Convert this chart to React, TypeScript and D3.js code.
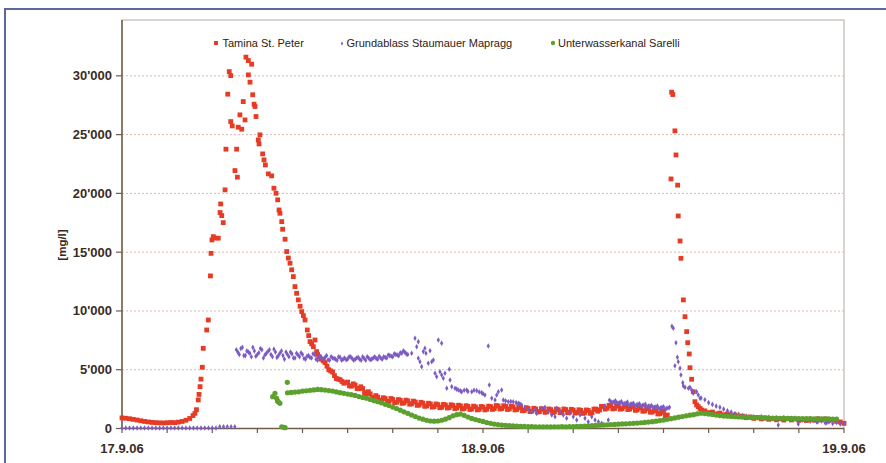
import { useEffect, useRef } from "react";
import * as d3 from "d3";

type Pt = [number, number]; // [hours since 17.9.06 00:00, mg/l]

const STEP = 0.25; // hours between readings in the regular stretches

// Tamina St. Peter
const taminaEarly = [
  900, 870, 830, 780, 720, 660, 600, 560, 520, 500, 480, 470, 490, 510, 500, 540, 600, 700, 850,
]; // from 0h
const taminaPeak1: Pt[] = [
  [4.72, 1100], [4.85, 1290], [4.95, 1600], [5.07, 2430], [5.12, 2900], [5.19, 3560], [5.25, 4200],
  [5.34, 5210], [5.4, 6820], [5.63, 8380], [5.74, 9230], [5.88, 12980], [5.92, 14900], [5.98, 16040],
  [6.07, 16320], [6.12, 16200], [6.4, 16190], [6.52, 18370], [6.56, 19100], [6.63, 18110], [6.73, 17510],
  [6.85, 20300], [6.91, 23760], [7.03, 28440], [7.13, 30360], [7.23, 30020], [7.23, 26110], [7.33, 25740],
  [7.51, 21940], [7.62, 23760], [7.67, 21380], [7.73, 25630], [7.84, 26680], [7.96, 25460], [8.06, 27810],
  [8.18, 26250], [8.24, 31590], [8.4, 31300], [8.4, 30080], [8.51, 29460], [8.62, 30990], [8.69, 28390],
  [8.78, 27590], [8.84, 27390], [8.91, 26540], [9.06, 24550], [9.11, 24210], [9.17, 24980], [9.35, 23360],
  [9.44, 22850], [9.53, 22420], [9.73, 21660], [9.95, 21490], [10.1, 20440], [10.24, 20010], [10.35, 19450],
  [10.44, 18590], [10.5, 18310], [10.62, 17600], [10.68, 16950], [10.84, 16100], [10.95, 15050],
  [11.06, 14500], [11.17, 14060], [11.28, 13500], [11.39, 12920], [11.5, 12070], [11.61, 11500],
  [11.72, 10940], [11.84, 10400], [11.95, 9940], [12.06, 9600], [12.17, 9230], [12.32, 8380], [12.41, 7900],
  [12.5, 7390], [12.61, 7200], [12.72, 6960], [12.83, 7530], [12.94, 6540],
];
const taminaMid = [
  6300, 5900, 5600, 5000, 4800, 4250, 4150, 3850, 3950, 3600, 3700, 3380, 3400, 2950, 2950, 2600,
  2680, 2400, 2550, 2320, 2480, 2230, 2400, 2180, 2350, 2100, 2250, 2000, 2160, 1920, 2090, 1860,
  2030, 1810, 2000, 1780, 1960, 1740, 1920, 1700, 1880, 1660, 1840, 1630, 1820, 1640, 1860, 1690,
  1910, 1700, 1880, 1660, 1840, 1620, 1780, 1540, 1700, 1480, 1660, 1440, 1630, 1420, 1610, 1410,
  1600, 1410, 1610, 1390, 1570, 1350, 1540, 1330, 1530, 1340, 1650, 1580, 1880, 1720, 1920, 1710,
  1900, 1690, 1870, 1650, 1820, 1580, 1740, 1500, 1670, 1400, 1520, 1250, 1380, 1150,
]; // from 13h
const taminaMid2 = [
  6100, 5750, 5300, 4900, 4500, 4200, 4000, 3900, 3630, 3800, 3400, 3550, 3050, 3130, 2650, 2800,
  2390, 2620, 2280, 2550, 2200, 2460, 2140, 2410, 2070, 2330, 1970, 2230, 1890, 2150, 1820, 2090,
  1770, 2050, 1740, 2020, 1700, 1980, 1660, 1940, 1620, 1900, 1585, 1875, 1580, 1900, 1625, 1950,
  1655, 1940, 1620, 1900, 1580, 1850, 1510, 1770, 1440, 1720, 1400, 1685, 1375, 1665, 1360, 1655,
  1355, 1660, 1350, 1630, 1310, 1595, 1285, 1580, 1285, 1650, 1470, 1880, 1650, 1970, 1665, 1955,
  1645, 1930, 1610, 1885, 1550, 1810, 1470, 1735, 1390, 1610, 1240, 1460, 1090,
]; // from 13.125h, in between the readings above
const taminaPeak2: Pt[] = [
  [36.5, 21230], [36.54, 28610], [36.62, 28410], [36.76, 25320], [36.83, 23270], [36.94, 20700],
  [36.98, 18080], [37.1, 15950], [37.16, 14480], [37.32, 10940], [37.43, 9510], [37.54, 8240],
  [37.61, 7300], [37.71, 6340], [37.76, 5170], [37.87, 4190], [37.98, 3130], [38.09, 2280],
  [38.2, 2000], [38.31, 1860], [38.43, 1700], [38.54, 1570],
];
const taminaLate = [
  1500, 1350, 1400, 1250, 1310, 1170, 1230, 1100, 1150, 1000, 1050, 920, 980, 860, 940, 820,
  900, 780, 850, 740, 830, 720, 830, 730, 810, 690, 780, 680, 790, 710, 830, 730, 820, 690,
  750, 620, 560, 440,
]; // from 38.75h

// Grundablass Staumauer Mapragg
const grundBase = [
  40, 40, 40, 40, 40, 40, 40, 40, 40, 40, 40, 40, 40, 40, 40, 40, 40, 40, 40, 40, 40, 40, 40, 40,
  40, 40, 150, 150, 150, 150, 150,
]; // from 0h
const grundBand = [
  6700, 6300, 6900, 6200, 6500, 6100, 6600, 6300, 6800, 6000, 6400, 6700, 6100, 6500, 6200, 6600,
  5900, 6300, 6500, 6000, 6400, 6100, 6300, 5900, 6200, 6000, 6300, 5800, 6100, 5900, 6200, 5800,
  6000, 5900, 6100, 5800, 6000, 5900, 6100, 5800, 6000, 5900, 6100, 5800, 6000, 5900, 6100, 5900,
  6000, 6100, 6000, 6200, 6100, 6300, 6200, 6400, 6500,
]; // from 7.6h, every 0.2h
const grundBand2 = [
  6500, 6800, 6200, 6600, 6400, 6900, 6150, 6450, 6700, 6250, 6550, 6300, 6750, 6050, 6400, 6200,
  6500, 6100, 6350, 6000, 6250, 6450, 5950, 6150, 6050, 6350, 5900, 6150, 5950, 6050, 5850, 6100,
  5950, 5800, 6050, 5900, 5850, 6100, 5950, 5900, 6050, 5800, 5950, 6100, 5850, 6000, 5950, 6150,
  5900, 6050, 6250, 6150, 6350, 6250, 6450, 6600, 6350,
]; // from 7.7h, every 0.2h
const grundScatter: Pt[] = [
  [19.0, 6300], [19.26, 6400], [19.48, 7680], [19.59, 6960], [19.7, 7390], [19.7, 5970], [19.81, 5680],
  [19.92, 5260], [20.03, 6540], [20.14, 6830], [20.21, 6400], [20.36, 5550], [20.48, 6620], [20.59, 5680],
  [20.7, 5830], [20.81, 4700], [20.92, 4410], [21.03, 7530], [21.14, 4830], [21.25, 7250], [21.25, 4550],
  [21.36, 4270], [21.47, 4700], [21.59, 3420], [21.76, 5040], [21.81, 4130], [21.92, 3560], [22.14, 3420],
  [22.25, 3350], [22.36, 3280], [22.5, 3200], [22.58, 3130], [22.75, 3250], [22.92, 3280], [23.0, 3150],
  [23.25, 3130], [23.4, 3250], [23.58, 3220], [23.75, 3100], [23.91, 3050], [24.0, 2950], [24.13, 2850],
  [24.35, 7020], [24.42, 3700], [24.58, 2570], [24.8, 2430], [24.91, 2850], [25.02, 3130], [25.24, 3280],
  [25.35, 2430], [25.5, 2350], [25.68, 2280], [25.85, 2300], [26.01, 2280], [26.2, 2200], [26.35, 2140],
  [26.45, 2100], [26.57, 2000], [26.79, 1800], [27.01, 1570], [27.24, 1430], [27.46, 1630], [27.57, 1290],
  [27.9, 1720], [28.12, 1800], [28.34, 1430], [28.57, 1150], [28.79, 1000], [28.9, 1720], [29.12, 1430],
  [29.34, 1150], [29.56, 870], [29.78, 1290], [30.0, 1000], [30.23, 720], [30.45, 1150], [30.78, 870],
  [31.0, 580], [31.23, 1000], [31.45, 720], [31.67, 580], [31.89, 440], [32.1, 1900], [32.33, 720],
];
const grundPlateau = [
  2400, 2200, 2350, 2150, 2300, 2100, 2250, 2050, 2150, 2000, 2100, 1950, 2050, 1900, 1950, 1800,
  1900, 1750, 1850, 1700, 1800,
]; // from 32.4h, every 0.2h
const grundPlateau2 = [
  2300, 2250, 2200, 2200, 2100, 2150, 2000, 2100, 1950, 2050, 1900, 2000, 1850, 1900, 1800, 1850,
  1700, 1800, 1650, 1750,
]; // from 32.5h, every 0.2h
const grundPeak: Pt[] = [
  [36.56, 8700], [36.65, 8530], [36.76, 5340], [36.83, 7300], [36.92, 6060], [36.98, 5680], [37.1, 5120],
  [37.16, 4550], [37.28, 3900], [37.32, 3620], [37.43, 3500], [37.65, 3420], [37.76, 3500], [37.87, 3280],
  [37.98, 3000], [38.2, 3130], [38.31, 2850], [38.43, 2570],
];
const grundTail = [
  2600, 2450, 2200, 2050, 1900, 1800, 1650, 1500, 1400, 1280, 1200, 1100, 1050, 980, 1000, 920,
  1010, 880, 950, 840, 900, 820, 940, 860, 780, 900, 830, 700, 760, 620, 700, 560, 650, 480,
  560, 420, 520, 380, 450,
]; // from 38.5h
const grundOutliers: Pt[] = [[43.63, 300], [44.96, 380], [46.18, 580], [46.85, 490]];

// Unterwasserkanal Sarelli
const sarelliFirst: Pt[] = [
  [10.02, 2710], [10.17, 3000], [10.28, 2570], [10.34, 2340], [10.39, 2280], [10.5, 2140],
  [10.62, 150], [10.77, 100], [10.84, 70], [10.99, 3930],
];
const sarelliBand = [
  3040, 3070, 3100, 3120, 3180, 3210, 3250, 3280, 3320, 3300, 3270, 3230, 3180, 3110, 3050, 2990,
  2930, 2880, 2810, 2720, 2640, 2580, 2470, 2370, 2280, 2180, 2060, 1950, 1820, 1700, 1560, 1420,
  1290, 1150, 1020, 890, 790, 700, 640, 620, 640, 700, 790, 920, 1080, 1180, 1230, 1120,
  980, 860, 760, 680, 600, 500, 440, 380, 330, 290, 270, 240, 230, 210, 190, 180,
  170, 160, 150, 150, 140, 150, 140, 150, 150, 160, 150, 160, 170, 180, 190, 200,
  220, 240, 260, 280, 300, 320, 340, 350, 370, 390, 400, 420, 440, 460, 490, 520,
  550, 580, 620, 670, 720, 780, 840, 900, 960, 1020, 1080, 1130, 1180, 1250, 1300, 1270,
  1230, 1190, 1140, 1100, 1060, 1040, 1020, 1000, 990, 970, 960, 950, 940, 930, 920, 900,
  890, 880, 880, 870, 870, 860, 860, 850, 850, 840, 840, 840, 830, 830, 830, 820,
  820, 810, 800,
]; // from 11h

const seriesNames = ["Tamina St. Peter", "Grundablass Staumauer Mapragg", "Unterwasserkanal Sarelli"];
const yTicks = [0, 5000, 10000, 15000, 20000, 25000, 30000];
const xTicks = d3.range(0, 49, 3); // every 3 hours
const dayLabels = ["17.9.06", "18.9.06", "19.9.06"];

function regular(start: number, values: number[], step = STEP): Pt[] {
  return values.map((v, i) => [start + i * step, v] as Pt);
}

export default function App() {
  const svgRef = useRef<SVGSVGElement | null>(null);

  useEffect(() => {
    if (!svgRef.current) return;
    const W = 886;
    const H = 463;
    const left = 122, right = 844, top = 20, bottom = 428.5;

    const svg = d3.select(svgRef.current);
    svg.selectAll("*").remove();
    svg.attr("width", W).attr("height", H);

    const tamina = [
      ...regular(0, taminaEarly), ...taminaPeak1, ...regular(13, taminaMid), ...regular(13.125, taminaMid2),
      ...taminaPeak2, ...regular(38.75, taminaLate),
    ];
    const grund = [
      ...regular(0, grundBase), ...regular(7.6, grundBand, 0.2), ...regular(7.7, grundBand2, 0.2),
      ...grundScatter, ...regular(32.4, grundPlateau, 0.2), ...regular(32.5, grundPlateau2, 0.2),
      ...grundPeak, ...regular(38.5, grundTail), ...grundOutliers,
    ];
    const sarelli = [...sarelliFirst, ...regular(11, sarelliBand)];

    const x = d3.scaleLinear().domain([0, 48]).range([left, right]);
    const y = d3.scaleLinear().domain([0, 34750]).range([bottom, top]);
    const fmt = d3.formatLocale({ decimal: ".", thousands: "'", grouping: [3], currency: ["", ""] }).format(",");

    const font = "'Liberation Sans', Arial, sans-serif";
    const ink = "#3a2c1f";

    svg.append("rect").attr("width", W).attr("height", H).attr("fill", "#fff");

    // outer frame
    svg.append("rect")
      .attr("x", 5).attr("y", 9).attr("width", 920).attr("height", 500)
      .attr("fill", "none").attr("stroke", "#5a689c").attr("stroke-width", 2);

    // plot area
    svg.append("rect")
      .attr("x", left).attr("y", top).attr("width", right - left).attr("height", bottom - top)
      .attr("fill", "#fff").attr("stroke", "#b3aaa2").attr("stroke-width", 1);

    // grid
    svg.append("g")
      .selectAll("line")
      .data(yTicks.filter((t) => t > 0))
      .join("line")
      .attr("x1", left).attr("x2", right)
      .attr("y1", (d) => y(d)).attr("y2", (d) => y(d))
      .attr("stroke", "#dcb9b0").attr("stroke-width", 1).attr("stroke-dasharray", "2,2");

    // axes
    const axisColor = "#6e5c48";
    svg.append("line").attr("x1", left).attr("x2", left).attr("y1", top).attr("y2", bottom)
      .attr("stroke", axisColor).attr("stroke-width", 1.5);
    svg.append("line").attr("x1", left).attr("x2", right).attr("y1", bottom).attr("y2", bottom)
      .attr("stroke", axisColor).attr("stroke-width", 1.5);

    svg.append("g").selectAll("line").data(yTicks).join("line")
      .attr("x1", left - 6).attr("x2", left)
      .attr("y1", (d) => y(d)).attr("y2", (d) => y(d))
      .attr("stroke", axisColor).attr("stroke-width", 1.2);
    svg.append("g").selectAll("text").data(yTicks).join("text")
      .attr("x", left - 10).attr("y", (d) => y(d)).attr("dy", "0.35em")
      .attr("text-anchor", "end").attr("font-family", font).attr("font-size", 13)
      .attr("font-weight", "bold").attr("fill", ink)
      .text((d) => fmt(d));

    svg.append("g").selectAll("line").data(xTicks).join("line")
      .attr("x1", (d) => x(d)).attr("x2", (d) => x(d))
      .attr("y1", bottom).attr("y2", bottom + 4.5)
      .attr("stroke", axisColor).attr("stroke-width", 1.2);
    svg.append("g").selectAll("text").data(dayLabels).join("text")
      .attr("x", (_, i) => x(i * 24)).attr("y", 453)
      .attr("text-anchor", "middle").attr("font-family", font).attr("font-size", 13)
      .attr("font-weight", "bold").attr("fill", ink)
      .text((d) => d);

    svg.append("text")
      .attr("transform", "translate(66,245) rotate(-90)")
      .attr("text-anchor", "middle").attr("font-family", font).attr("font-size", 11.5)
      .attr("font-weight", "bold").attr("fill", ink)
      .text("[mg/l]");

    // series
    const red = "#e63b24", purple = "#7c5cc2", green = "#5ca12e";
    const diamond = d3.symbol().type(d3.symbolDiamond).size(9);

    svg.append("g").selectAll("rect").data(tamina).join("rect")
      .attr("x", (d) => x(d[0]) - 2.4).attr("y", (d) => y(d[1]) - 2.4)
      .attr("width", 4.8).attr("height", 4.8).attr("fill", red);

    svg.append("g").selectAll("path").data(grund).join("path")
      .attr("d", diamond()!)
      .attr("transform", (d) => `translate(${x(d[0])},${y(d[1])})`)
      .attr("fill", purple);

    svg.append("g").selectAll("circle").data(sarelli).join("circle")
      .attr("cx", (d) => x(d[0])).attr("cy", (d) => y(d[1])).attr("r", 2.6)
      .attr("fill", green);

    // legend
    const legend = svg.append("g").attr("font-family", font).attr("font-size", 11).attr("fill", "#2c2117");
    const lx = [222.5, 346.5, 558];
    legend.append("rect").attr("x", 214).attr("y", 41).attr("width", 4).attr("height", 4).attr("fill", red);
    legend.append("path").attr("d", d3.symbol().type(d3.symbolDiamond).size(5)()!)
      .attr("transform", "translate(342,43.5)").attr("fill", purple);
    legend.append("circle").attr("cx", 553).attr("cy", 43).attr("r", 2.2).attr("fill", green);
    legend.selectAll("text").data(seriesNames).join("text")
      .attr("x", (_, i) => lx[i]).attr("y", 47)
      .text((d) => d);
  }, []);

  return <svg ref={svgRef} style={{ position: "absolute", left: 0, top: 0 }} />;
}
